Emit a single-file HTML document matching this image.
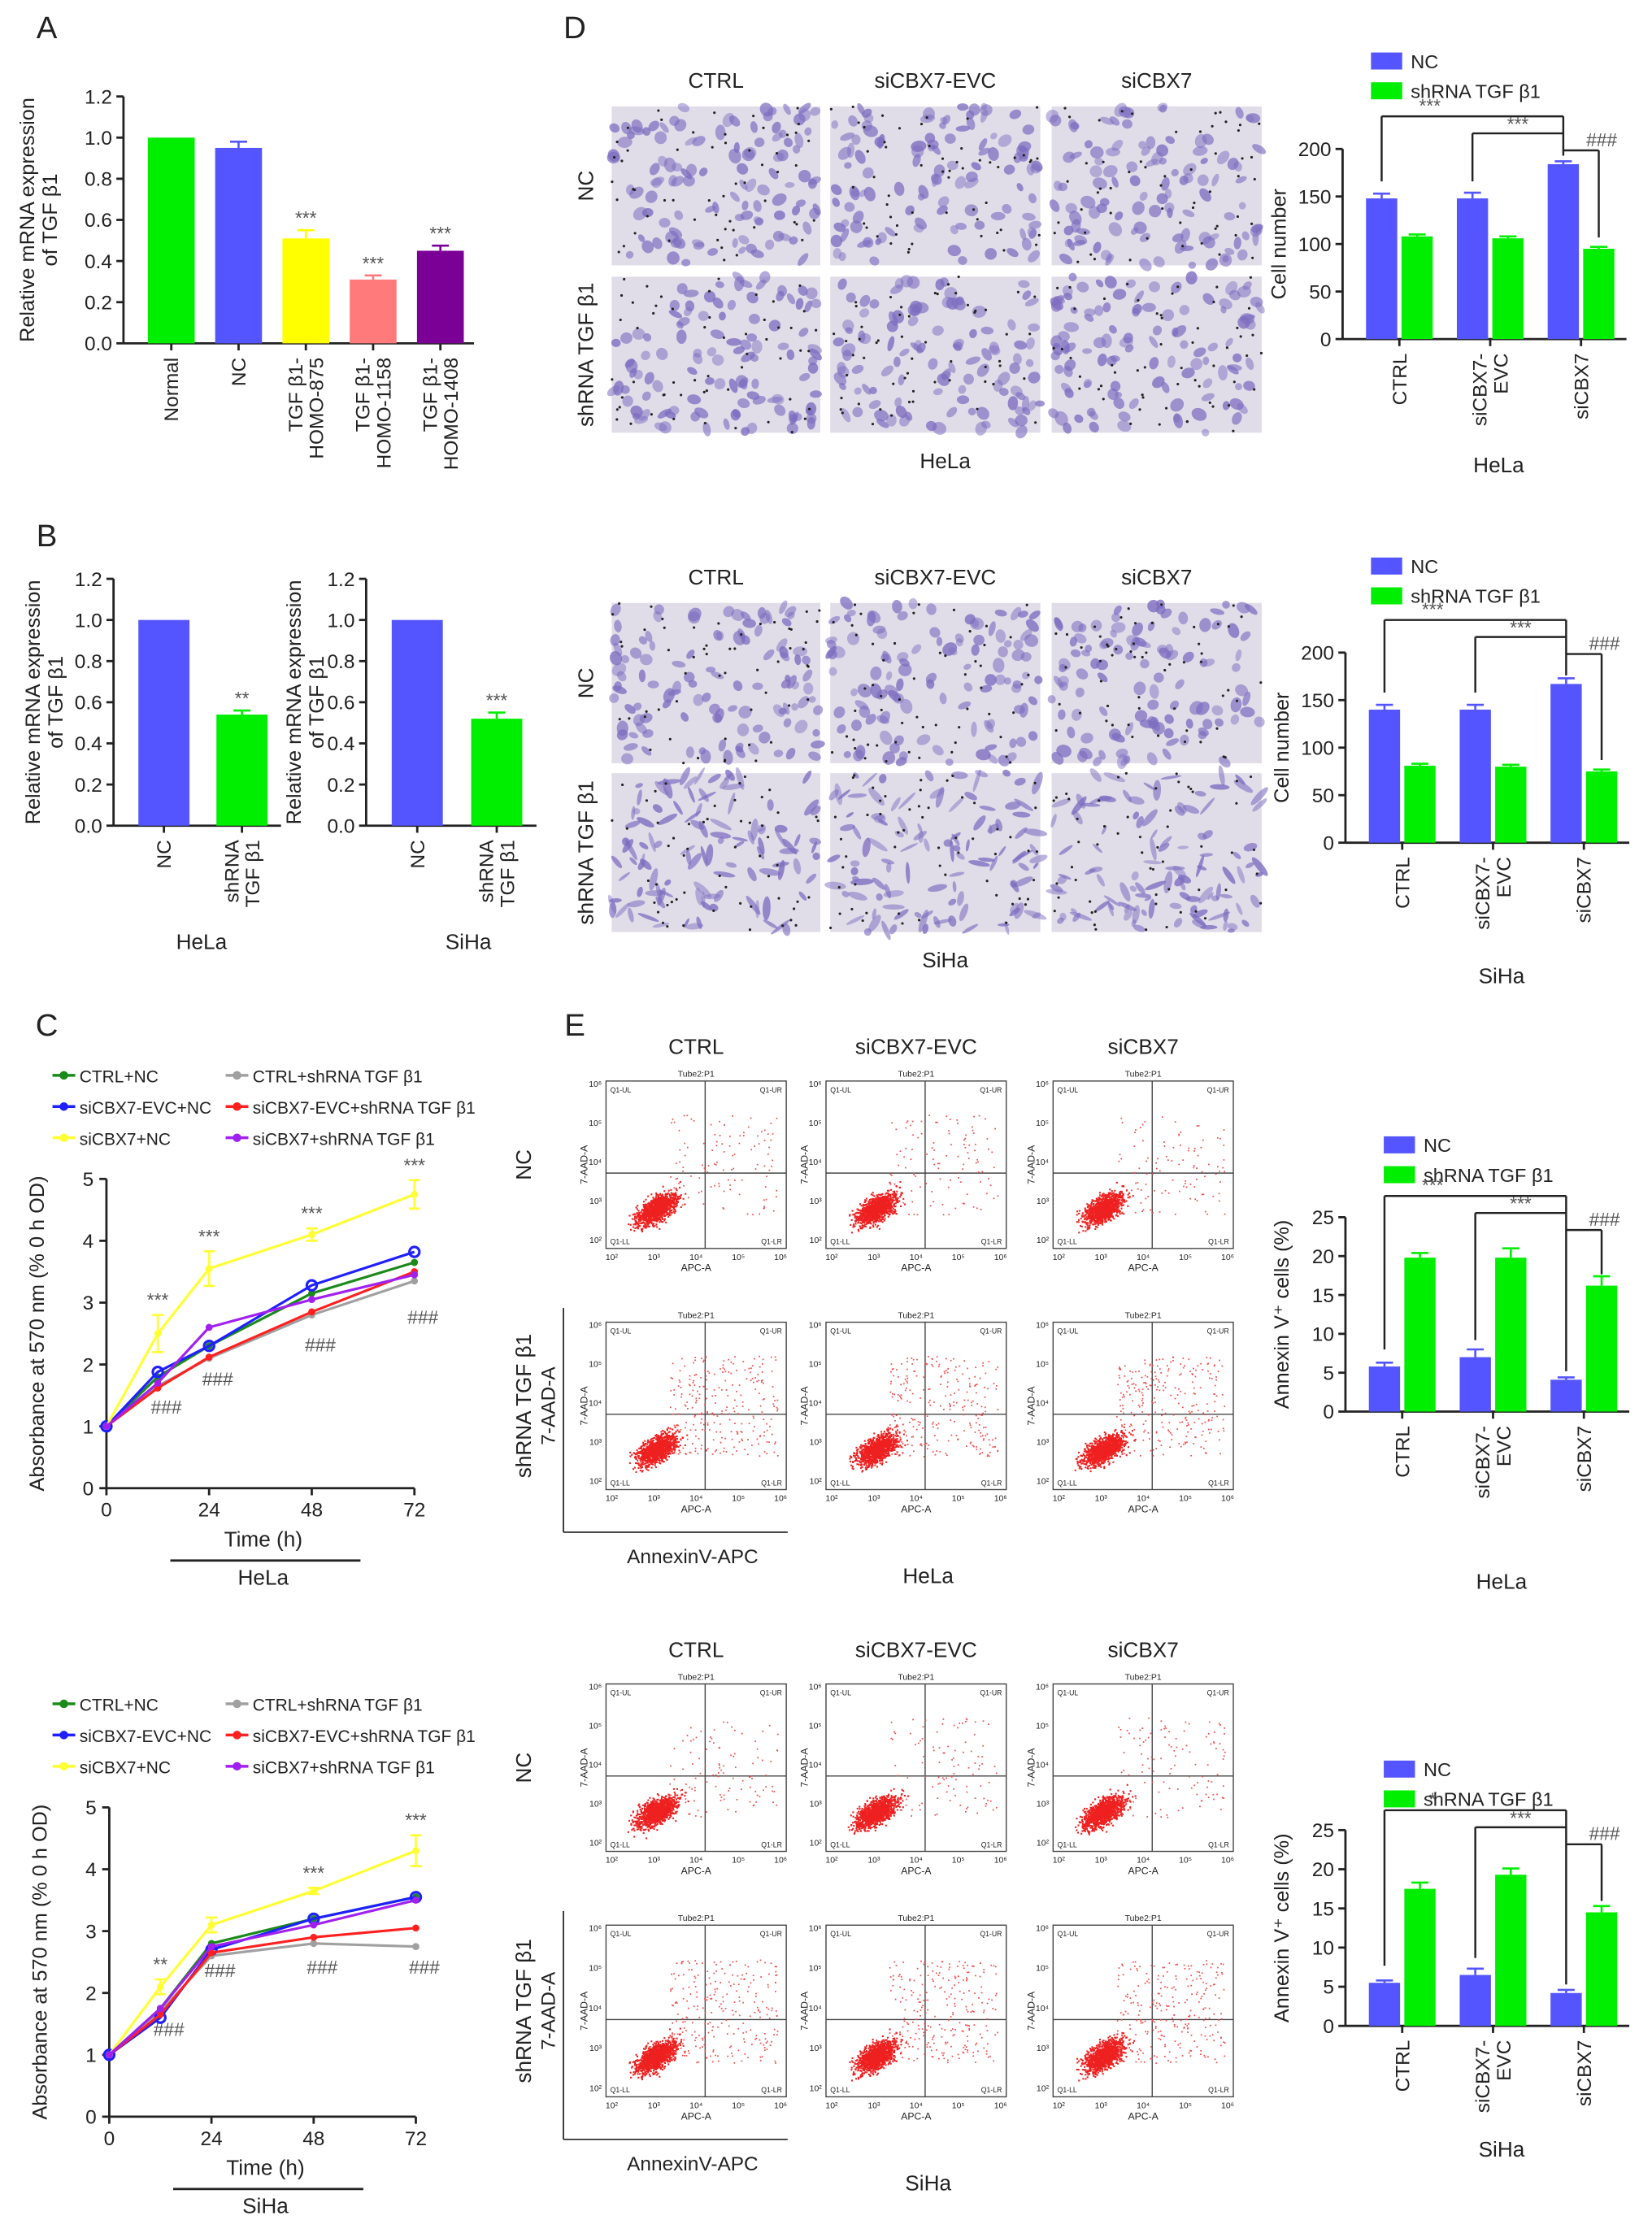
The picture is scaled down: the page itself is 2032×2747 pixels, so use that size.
<!DOCTYPE html>
<html><head><meta charset="utf-8">
<style>
html,body{margin:0;padding:0;background:#fff;}
svg{display:block;font-family:"Liberation Sans",Arial,sans-serif;}
</style></head>
<body>
<svg id="fig" width="2032" height="2747" viewBox="0 0 1164 1574" preserveAspectRatio="none" xmlns="http://www.w3.org/2000/svg"></svg>
<script>
// ---------- data ----------
const aCats = ["Normal","NC","TGF β1-|HOMO-875","TGF β1-|HOMO-1158","TGF β1-|HOMO-1408"];
const aVals = [1.0,0.95,0.51,0.31,0.45];
const aErrs = [0,0.03,0.04,0.02,0.025];
const aColors = ["#00ee00","#5555ff","#ffff00","#ff7b7b","#7a0096"];
const aSig = ["","","***","***","***"];

const bCats = ["NC","shRNA|TGF β1"];
const bHeLa = [1.0,0.54];
const bHeLaErr = [0,0.02];
const bSiHa = [1.0,0.52];
const bSiHaErr = [0,0.03];

const timePts = [0,12,24,48,72];
const cSeriesNames = ["CTRL+NC","CTRL+shRNA TGF β1","siCBX7-EVC+NC","siCBX7-EVC+shRNA TGF β1","siCBX7+NC","siCBX7+shRNA TGF β1"];
const cColors = ["#1a8a1a","#a0a0a0","#1f1fff","#ff2020","#ffff33","#a020f0"];
const hGreen = [1,1.8,2.3,3.15,3.65];
const hGray = [1,1.65,2.1,2.8,3.35];
const hBlue = [1,1.88,2.3,3.28,3.82];
const hRed = [1,1.62,2.12,2.85,3.5];
const hYellow = [1,2.5,3.55,4.1,4.75];
const hPurple = [1,1.7,2.6,3.05,3.45];
const hYellowErr = [0,0.3,0.28,0.1,0.23];
const sGreen = [1,1.75,2.8,3.2,3.55];
const sGray = [1,1.7,2.6,2.8,2.75];
const sBlue = [1,1.6,2.7,3.2,3.55];
const sRed = [1,1.65,2.65,2.9,3.05];
const sYellow = [1,2.1,3.1,3.65,4.3];
const sPurple = [1,1.75,2.75,3.1,3.5];
const sYellowErr = [0,0.12,0.12,0.05,0.25];

const dCats = ["CTRL","siCBX7-|EVC","siCBX7"];
const dHeLaNC = [148,148,184];
const dHeLaSh = [108,106,95];
const dSiHaNC = [140,140,167];
const dSiHaSh = [81,80,75];
const eHeLaNC = [5.8,7.0,4.1];
const eHeLaSh = [19.8,19.8,16.2];
const eSiHaNC = [5.5,6.5,4.2];
const eSiHaSh = [17.5,19.3,14.5];

// ---------- helpers ----------
const NS="http://www.w3.org/2000/svg";
const svg=document.getElementById('fig');
function mk(tag,attrs,name,parent){
  const el=document.createElementNS(NS,tag);
  for(const k in attrs) el.setAttribute(k,attrs[k]);
  
  
  (parent||svg).appendChild(el);
  return el;
}
function txt(x,y,s,size,name,opt){
  opt=opt||{};
  const a={x:x,y:y,'font-size':size,fill:opt.fill||'#222','text-anchor':opt.anchor||'middle'};
  if(opt.rot!==undefined) a.transform=`rotate(${opt.rot} ${x} ${y})`;
  if(opt.weight) a['font-weight']=opt.weight;
  const t=mk('text',a,name,opt.parent);
  t.textContent=s;
  return t;
}
function ln(x1,y1,x2,y2,name,w,c,parent){
  return mk('line',{x1:x1,y1:y1,x2:x2,y2:y2,stroke:c||'#222','stroke-width':w||1.6},name,parent);
}
function rotLabel(x,y,label,size,name){
  const parts=label.split('|');
  const n=parts.length;
  parts.forEach((p,i)=>{
    txt(x+(i-(n-1)/2)*size*1.05+size*0.35,y,p,size,name,{rot:-90,anchor:'end'});
  });
}

// ---------- generic bar chart ----------
function barChart(o){
  const sy=v=>o.y0-(v/o.max)*(o.y0-o.yTop);
  ln(o.ax,o.yTop,o.ax,o.y0,o.name+'-y-axis');
  ln(o.ax,o.y0,o.xEnd,o.y0,o.name+'-x-axis');
  for(let v=0;v<=o.max+1e-9;v+=o.step){
    const y=sy(v);
    ln(o.ax-5,y,o.ax,y,o.name+'-y-tick');
    txt(o.ax-8,y+5,o.fmt(v),o.fs||14,o.name+'-y-tick-label',{anchor:'end'});
  }
  const nG=o.cats.length, nS=o.series.length;
  const gw=(o.xEnd-o.ax-o.padL-o.padR)/nG;
  o.cats.forEach((c,i)=>{
    const gx=o.ax+o.padL+gw*(i+0.5);
    ln(gx,o.y0,gx,o.y0+5,o.name+'-x-tick');
    rotLabel(gx,o.y0+10,c,o.lfs||14,o.name+'-x-label');
    o.series.forEach((s,j)=>{
      const cx=gx+(j-(nS-1)/2)*o.sep;
      const v=s.vals[i], e=s.errs?s.errs[i]:0;
      const col=s.colors?s.colors[i]:s.color;
      mk('rect',{x:cx-o.bw/2,y:sy(v),width:o.bw,height:o.y0-sy(v),fill:col},o.name+'-bar-'+i+'-'+j);
      if(e>0){
        ln(cx,sy(v),cx,sy(v+e),o.name+'-error-bar',1.5,col);
        ln(cx-6,sy(v+e),cx+6,sy(v+e),o.name+'-error-cap',1.5,col);
      }
      if(s.sig&&s.sig[i]) txt(cx,sy(v+e)-4,s.sig[i],13,o.name+'-significance',{fill:'#555'});
    });
  });
  if(o.ytitle){
    o.ytitle.forEach((t,k)=>txt(o.tx+k*16,(o.yTop+o.y0)/2,t,14.5,o.name+'-y-axis-title',{rot:-90}));
  }
  return {sy:sy,gx:i=>o.ax+o.padL+gw*(i+0.5)};
}

// ---------- Panel A ----------
txt(33,27,"A",22,'panel-label-a');
barChart({name:'chart-a',ax:87,xEnd:334,yTop:68,y0:242,max:1.2,step:0.2,fmt:v=>v.toFixed(1),
  cats:aCats,padL:10,padR:0,sep:0,bw:33,fs:14,lfs:14,
  series:[{vals:aVals,errs:aErrs,colors:aColors,sig:aSig}],
  ytitle:["Relative mRNA expression","of TGF β1"],tx:24});

// ---------- Panel B ----------
txt(33,385,"B",22,'panel-label-b');
barChart({name:'chart-b-hela',ax:80,xEnd:198,yTop:408,y0:582,max:1.2,step:0.2,fmt:v=>v.toFixed(1),
  cats:bCats,padL:8,padR:0,sep:0,bw:36,fs:14,lfs:14,
  series:[{vals:bHeLa,errs:bHeLaErr,colors:["#5555ff","#00ee00"],sig:["","**"]}],
  ytitle:["Relative mRNA expression","of TGF β1"],tx:28});
txt(142,669,"HeLa",15,'chart-b-hela-x-title');
barChart({name:'chart-b-siha',ax:258,xEnd:378,yTop:408,y0:582,max:1.2,step:0.2,fmt:v=>v.toFixed(1),
  cats:bCats,padL:8,padR:0,sep:0,bw:36,fs:14,lfs:14,
  series:[{vals:bSiHa,errs:bSiHaErr,colors:["#5555ff","#00ee00"],sig:["","***"]}],
  ytitle:["Relative mRNA expression","of TGF β1"],tx:212});
txt(330,669,"SiHa",15,'chart-b-siha-x-title');

// ---------- Panel C ----------
txt(33,730,"C",22,'panel-label-c');
function lineChart(o){
  const sx=t=>o.x0+(t/72)*(o.x1-o.x0);
  const sy=v=>o.y0-(v/5)*(o.y0-o.yTop);
  cSeriesNames.forEach((n,i)=>{
    const col=i%2, row=Math.floor(i/2);
    const lx=o.legX+col*122, ly=o.legY+row*22;
    ln(lx,ly-4,lx+16,ly-4,o.name+'-legend-line',2,cColors[i]);
    mk('circle',{cx:lx+8,cy:ly-4,r:3,fill:cColors[i]},o.name+'-legend-marker');
    txt(lx+19,ly+1,n,12,o.name+'-legend-entry',{anchor:'start'});
  });
  ln(o.x0,o.yTop,o.x0,o.y0,o.name+'-y-axis');
  ln(o.x0,o.y0,o.x1,o.y0,o.name+'-x-axis');
  for(let v=0;v<=5;v++){ln(o.x0-5,sy(v),o.x0,sy(v),o.name+'-y-tick');txt(o.x0-9,sy(v)+5,String(v),14,o.name+'-y-tick-label',{anchor:'end'});}
  [0,24,48,72].forEach(t=>{ln(sx(t),o.y0,sx(t),o.y0+5,o.name+'-x-tick');txt(sx(t),o.y0+20,String(t),14,o.name+'-x-tick-label');});
  txt(o.x0-44,(o.yTop+o.y0)/2,"Absorbance at 570 nm (% 0 h OD)",14.5,o.name+'-y-axis-title',{rot:-90});
  txt((o.x0+o.x1)/2+2,o.y0+41,"Time (h)",15,o.name+'-x-axis-title');
  ln(o.x0+45,o.y0+51,o.x0+179,o.y0+51,o.name+'-underline',1.6);
  txt((o.x0+o.x1)/2+2,o.y0+68,o.cell,15,o.name+'-cell-line-label');
  o.series.forEach((vals,i)=>{
    const pts=timePts.map((t,k)=>sx(t)+','+sy(vals[k])).join(' ');
    mk('polyline',{points:pts,fill:'none',stroke:cColors[i],'stroke-width':1.8},o.name+'-series-line-'+i);
    timePts.forEach((t,k)=>{
      if(i===4){const e=o.yErr[k]; if(e>0){ln(sx(t),sy(vals[k]-e),sx(t),sy(vals[k]+e),o.name+'-error-bar',1.5,cColors[i]);ln(sx(t)-4,sy(vals[k]+e),sx(t)+4,sy(vals[k]+e),o.name+'-error-cap',1.5,cColors[i]);ln(sx(t)-4,sy(vals[k]-e),sx(t)+4,sy(vals[k]-e),o.name+'-error-cap',1.5,cColors[i]);}}
      if(i===2) mk('circle',{cx:sx(t),cy:sy(vals[k]),r:3.5,fill:'none',stroke:cColors[i],'stroke-width':1.8},o.name+'-point');
      else mk('circle',{cx:sx(t),cy:sy(vals[k]),r:2.5,fill:cColors[i]},o.name+'-point');
    });
  });
  o.stars.forEach((s,k)=>{ if(s){const t=timePts[k+1]; txt(sx(t),sy(o.series[4][k+1]+o.yErr[k+1])-6,s,13,o.name+'-significance',{fill:'#555'});}});
  o.hashes.forEach((h,k)=>{ if(h){const t=timePts[k+1]; txt(sx(t)+6,sy(o.hashY[k])+4,h,13,o.name+'-significance-hash',{fill:'#555'});}});
}
lineChart({name:'chart-c-hela',x0:75,x1:292,yTop:831,y0:1049,legX:37,legY:762,cell:"HeLa",
  series:[hGreen,hGray,hBlue,hRed,hYellow,hPurple],yErr:hYellowErr,
  stars:["***","***","***","***"],hashes:["###","###","###","###"],hashY:[1.3,1.75,2.3,2.75]});
lineChart({name:'chart-c-siha',x0:77,x1:293,yTop:1274,y0:1492,legX:37,legY:1205,cell:"SiHa",
  series:[sGreen,sGray,sBlue,sRed,sYellow,sPurple],yErr:sYellowErr,
  stars:["**","","***","***"],hashes:["###","###","###","###"],hashY:[1.4,2.35,2.4,2.4]});

// ---------- deterministic texture generator ----------
let seed=12345;
function rnd(){seed=(seed*1103515245+12345)&0x7fffffff;return seed/0x7fffffff;}
function gauss(){return (rnd()+rnd()+rnd()+rnd()-2)/1.15;}

function micro(x,y,w,h,name,elong){
  const g=mk('g',{},name);
  mk('rect',{x:x,y:y,width:w,height:h,fill:'#e0dde8'},name+'-background',g);
  for(let i=0;i<110;i++){
    const cx=x+rnd()*w, cy=y+rnd()*h;
    const rx=elong?2.5+rnd()*6:2.5+rnd()*3, ry=elong?1+rnd()*1.8:2+rnd()*2.5;
    mk('ellipse',{cx:cx,cy:cy,rx:rx,ry:ry,fill:'#7d6cc0','fill-opacity':0.45+rnd()*0.35,transform:`rotate(${rnd()*180} ${cx} ${cy})`},name+'-cell',g);
  }
  for(let i=0;i<55;i++){
    mk('circle',{cx:x+rnd()*w,cy:y+rnd()*h,r:0.9,fill:'#222'},name+'-pore',g);
  }
}
function flow(x,y,w,h,name,ur){
  const g=mk('g',{},name);
  mk('rect',{x:x,y:y,width:w,height:h,fill:'#fff',stroke:'#444','stroke-width':0.8},name+'-frame',g);
  ln(x+w*0.55,y,x+w*0.55,y+h,name+'-gate-v',0.8,'#444',g);
  ln(x,y+h*0.55,x+w,y+h*0.55,name+'-gate-h',0.8,'#444',g);
  for(let i=0;i<1100;i++){
    const t=gauss();
    const px=x+w*(0.28+t*0.1+gauss()*0.05), py=y+h*(0.76-t*0.06+gauss()*0.07);
    mk('rect',{x:px,y:py,width:1.2,height:1.2,fill:'#ee2020'},name+'-event',g);
  }
  for(let i=0;i<ur;i++){
    const px=x+w*(0.35+rnd()*0.6), py=y+h*(0.2+rnd()*0.6);
    mk('rect',{x:px,y:py,width:1,height:1,fill:'#f05050'},name+'-event',g);
  }
  txt(x+w/2,y-3,"Tube2:P1",6,name+'-title',{parent:g});
  txt(x+3,y+8,"Q1-UL",5,name+'-quadrant',{anchor:'start',parent:g});
  txt(x+w-3,y+8,"Q1-UR",5,name+'-quadrant',{anchor:'end',parent:g});
  txt(x+3,y+h-3,"Q1-LL",5,name+'-quadrant',{anchor:'start',parent:g});
  txt(x+w-3,y+h-3,"Q1-LR",5,name+'-quadrant',{anchor:'end',parent:g});
  ["10²","10³","10⁴","10⁵","10⁶"].forEach((s,k)=>{
    txt(x+4+k*(w-8)/4,y+h+8,s,6,name+'-x-tick-label',{parent:g});
    txt(x-3,y+h-4-k*(h-8)/4,s,6,name+'-y-tick-label',{anchor:'end',parent:g});
  });
  txt(x+w/2,y+h+16,"APC-A",7,name+'-x-axis-title',{parent:g});
  txt(x-13,y+h/2,"7-AAD-A",7,name+'-y-axis-title',{rot:-90,parent:g});
}

// ---------- Panel D ----------
txt(405,27,"D",22,'panel-label-d');
const colX=[[431,578],[585,733],[741,889]];
const hdr=["CTRL","siCBX7-EVC","siCBX7"];
function micrographBlock(y0,rows,cell,elong,nm){
  hdr.forEach((h,i)=>txt((colX[i][0]+colX[i][1])/2,y0-8,h,15,nm+'-column-header'));
  rows.forEach((r,ri)=>colX.forEach((c,ci)=>micro(c[0],r[0],c[1]-c[0],r[1]-r[0],nm+'-image',elong&&ri===1)));
  txt(418,(rows[0][0]+rows[0][1])/2,"NC",15,nm+'-row-label',{rot:-90});
  txt(418,(rows[1][0]+rows[1][1])/2,"shRNA TGF β1",15,nm+'-row-label',{rot:-90});
  txt(666,rows[1][1]+25,cell,15,nm+'-cell-line-label');
}
micrographBlock(70,[[75,187],[195,305]],"HeLa",false,'invasion-hela');
micrographBlock(420,[[425,538],[545,657]],"SiHa",true,'invasion-siha');

function groupedBar(o){
  mk('rect',{x:o.legX,y:o.legY-9,width:22,height:12,fill:'#5555ff'},o.name+'-legend-swatch-nc');
  txt(o.legX+28,o.legY+2,"NC",13.5,o.name+'-legend-entry',{anchor:'start'});
  mk('rect',{x:o.legX,y:o.legY+12,width:22,height:12,fill:'#00ee00'},o.name+'-legend-swatch-shrna');
  txt(o.legX+28,o.legY+23,"shRNA TGF β1",13.5,o.name+'-legend-entry',{anchor:'start'});
  const r=barChart({name:o.name,ax:o.ax,xEnd:o.ax+200,yTop:o.yTop,y0:o.y0,max:o.max,step:o.step,fmt:v=>String(v),
    cats:dCats,padL:8,padR:0,sep:25,bw:22,fs:14,lfs:14,
    series:[{vals:o.nc,errs:o.ncE,color:'#5555ff'},{vals:o.sh,errs:o.shE,color:'#00ee00'}],
    ytitle:[o.ytitle],tx:o.ax-40});
  const sy=r.sy;
  const b0=r.gx(0)-12.5,b1=r.gx(1)-12.5,b2=r.gx(2)-12.5,g2=r.gx(2)+12.5;
  const top=o.bk1;
  ln(b0,sy(o.nc[0])-12,b0,top,o.name+'-bracket',1.4);ln(b0,top,b2,top,o.name+'-bracket',1.4);ln(b2,top,b2,sy(o.nc[2])-6,o.name+'-bracket',1.4);
  txt((b0+b2)/2-30,top-3,o.s1,13,o.name+'-significance',{fill:'#555'});
  ln(b1,sy(o.nc[1])-12,b1,top+12,o.name+'-bracket',1.4);ln(b1,top+12,b2,top+12,o.name+'-bracket',1.4);
  txt((b1+b2)/2,top+10,"***",13,o.name+'-significance',{fill:'#555'});
  ln(b2,top+24,g2,top+24,o.name+'-bracket',1.4);ln(g2,top+24,g2,sy(o.sh[2])-8,o.name+'-bracket',1.4);
  txt(g2+2,top+21,"###",13,o.name+'-significance-hash',{fill:'#555'});
  txt(o.ax+110,o.cellY,o.cell,15,o.name+'-cell-line-label');
}
groupedBar({name:'chart-d-hela',ax:946,yTop:105,y0:239,max:200,step:50,nc:dHeLaNC,sh:dHeLaSh,ncE:[5,6,3],shE:[2,2,2],
  legX:966,legY:46,bk1:82,s1:"***",ytitle:"Cell number",cell:"HeLa",cellY:333});
groupedBar({name:'chart-d-siha',ax:948,yTop:460,y0:594,max:200,step:50,nc:dSiHaNC,sh:dSiHaSh,ncE:[5,5,6],shE:[2,2,2],
  legX:966,legY:402,bk1:437,s1:"***",ytitle:"Cell number",cell:"SiHa",cellY:693});

// ---------- Panel E ----------
txt(405,730,"E",22,'panel-label-e');
const fX=[[427,554],[582,709],[742,869]];
function flowBlock(y0,rows,cell,nm){
  hdr.forEach((h,i)=>txt((fX[i][0]+fX[i][1])/2,y0,h,15,nm+'-column-header'));
  rows.forEach((r,ri)=>fX.forEach((c,ci)=>flow(c[0],r[0],c[1]-c[0],r[1]-r[0],nm+'-flow-plot',ri===0?110:260)));
  txt(374,(rows[0][0]+rows[0][1])/2,"NC",15,nm+'-row-label',{rot:-90});
  txt(374,(rows[1][0]+rows[1][1])/2,"shRNA TGF β1",15,nm+'-row-label',{rot:-90});
  txt(391,(rows[1][0]+rows[1][1])/2,"7-AAD-A",14,nm+'-y-axis-title',{rot:-90});
  ln(397,rows[1][1]+30,397,rows[1][0]-10,nm+'-y-arrow',1);
  ln(397,rows[1][1]+30,555,rows[1][1]+30,nm+'-x-arrow',1);
  txt(488,rows[1][1]+52,"AnnexinV-APC",14,nm+'-x-axis-title');
  txt(654,rows[1][1]+66,cell,15,nm+'-cell-line-label');
}
flowBlock(743,[[762,880],[932,1050]],"HeLa",'apoptosis-hela');
flowBlock(1168,[[1187,1305],[1357,1478]],"SiHa",'apoptosis-siha');

groupedBar({name:'chart-e-hela',ax:948,yTop:858,y0:995,max:25,step:5,nc:eHeLaNC,sh:eHeLaSh,ncE:[0.5,1,0.3],shE:[0.6,1.2,1.2],
  legX:975,legY:810,bk1:843,s1:"***",ytitle:"Annexin V⁺ cells (%)",cell:"HeLa",cellY:1120});
groupedBar({name:'chart-e-siha',ax:948,yTop:1290,y0:1428,max:25,step:5,nc:eSiHaNC,sh:eSiHaSh,ncE:[0.3,0.8,0.4],shE:[0.8,0.8,0.8],
  legX:975,legY:1250,bk1:1276,s1:"*",ytitle:"Annexin V⁺ cells (%)",cell:"SiHa",cellY:1520});
</script>
</body></html>
